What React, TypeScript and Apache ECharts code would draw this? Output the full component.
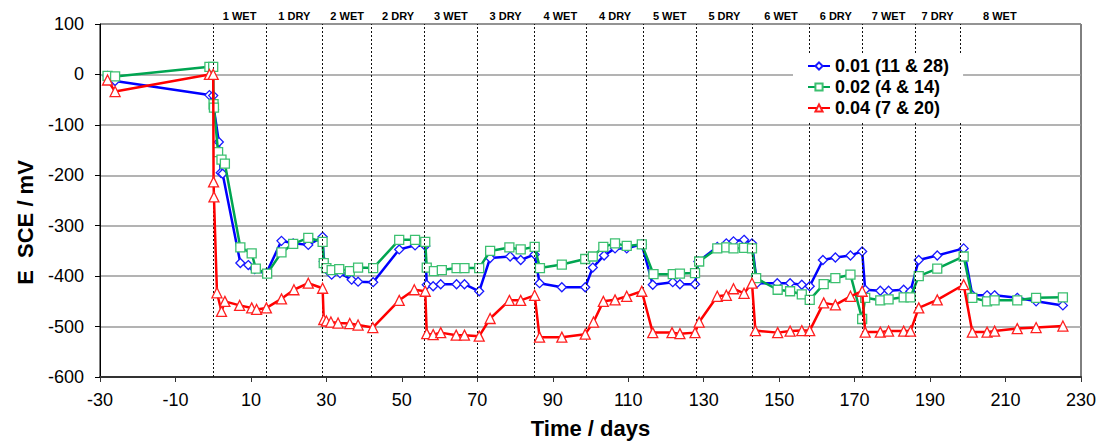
import React, { useEffect, useRef } from "react";
import * as echarts from "echarts";

// ---- Data ----
const seriesNames = ["0.01 (11 & 28)", "0.02 (4 & 14)", "0.04 (7 & 20)"];

const blueDays = [
  -28, -26, -1, 0, 0.2, 1.5, 2.0, 2.5, 7.2, 9.3, 11.0, 14.1, 18.1, 21.2, 25.2, 29.0, 29.3, 30.2, 31.4, 33.6, 36.7,
  38.4, 42.4, 49.3, 53.5, 56.2, 56.6, 58.3, 60.3, 64.5, 66.6, 70.5, 73.4, 78.7, 81.5, 85.2, 86.5, 92.4, 98.6,
  100.6, 103.6, 106.5, 109.6, 113.6, 116.5, 121.8, 123.7, 127.7, 128.6, 133.6, 136, 137.9, 140.7, 142.8, 144.1,
  149.5, 152.9, 156, 158.1, 161.6, 164.9, 168.9, 172, 172.8, 176.8, 179, 183, 184.8, 187, 191.9, 198.9, 201.2,
  205.1, 207.1, 213.1, 218.1, 225.2,
];
const blueValues = [
  -3, -13, -41, -42, -69, -134, -195, -197, -374, -378, -386, -394, -330, -335, -338, -322, -371, -388, -397, -394,
  -407, -411, -412, -347, -339, -340, -417, -420, -416, -416, -416, -430, -364, -361, -368, -357, -414, -422, -422,
  -383, -359, -345, -345, -337, -417, -412, -416, -416, -371, -342, -335, -331, -328, -335, -414, -414, -414, -417,
  -420, -368, -363, -359, -351, -427, -429, -429, -427, -430, -368, -359, -345, -438, -438, -438, -443, -450, -458,
];

const greenDays = [
  -28, -26, -1, 0, 0.1, 0.2, 1.3, 2.2, 3.1, 7.2, 10.2, 11.3, 14.3, 18.1, 21.2, 25.2, 29.0, 29.3, 30.0, 31.4, 33.4,
  36.2, 38.4, 42.4, 49.3, 53.5, 56.2, 56.6, 58.5, 60.6, 64.5, 66.6, 70.5, 73.4, 78.5, 81.5, 85.2, 86.6, 92.4,
  98.6, 100.6, 103.4, 106.5, 109.6, 113.6, 116.7, 121.8, 123.7, 127.7, 128.8, 133.6, 136, 137.9, 140.7, 142.8,
  143.9, 149.6, 152.9, 156, 158.1, 161.8, 164.9, 168.9, 172, 172.8, 176.8, 179, 183, 184.8, 187, 191.9, 198.9,
  201.2, 205.1, 207.1, 213.1, 218.1, 225.2,
];
const greenValues = [
  -3, -4, 15, 15, -59, -66, -154, -169, -177, -343, -355, -385, -395, -353, -336, -324, -332, -374, -384, -388, -386,
  -390, -383, -384, -328, -328, -332, -383, -390, -388, -384, -384, -384, -350, -343, -347, -342, -384, -377, -366,
  -361, -342, -335, -340, -337, -396, -396, -395, -394, -371, -345, -343, -345, -344, -345, -404, -427, -430, -436,
  -447, -416, -404, -397, -485, -443, -448, -446, -442, -442, -400, -385, -361, -443, -450, -448, -448, -443, -442,
];

const redDays = [
  -28, -26, -1, 0, 0.1, 0.2, 1.0, 2.2, 3.1, 7.0, 10.2, 11.5, 14.1, 18.1, 21.4, 25.2, 29.0, 29.3, 30.0, 31.2, 33.1,
  36.2, 38.4, 42.3, 49.3, 53.3, 56.2, 56.6, 58.3, 60.3, 64.4, 66.6, 70.5, 73.4, 78.5, 81.5, 85.2, 86.5, 92.4, 98.6,
  100.8, 103.4, 106.5, 109.6, 113.6, 116.5, 121.6, 123.7, 127.7, 128.8, 133.6, 136, 137.9, 140.7, 142.8, 143.7,
  149.6, 152.9, 156, 158.1, 161.8, 164.9, 168.9, 172, 172.8, 176.8, 179, 183, 184.8, 187, 191.9, 198.9, 201.2,
  205.1, 207.1, 213.1, 218.1, 225.2,
];
const redValues = [
  -11, -34, 0, 0, -213, -243, -433, -470, -450, -458, -463, -466, -463, -445, -427, -414, -424, -486, -489, -491,
  -493, -494, -497, -502, -448, -427, -430, -514, -516, -512, -517, -517, -519, -484, -448, -448, -438, -521, -521,
  -515, -491, -450, -447, -440, -430, -512, -512, -514, -512, -491, -440, -438, -425, -434, -414, -508, -512, -509,
  -508, -508, -453, -457, -440, -430, -511, -511, -509, -509, -509, -463, -447, -417, -511, -511, -509, -504, -502,
  -499,
];

const dividerDays = [0, 14, 29, 42, 56, 70, 85, 99, 114, 128, 143, 158, 172, 186, 198];
const phaseLabels = [
  "1 WET", "1 DRY", "2 WET", "2 DRY", "3 WET", "3 DRY", "4 WET", "4 DRY",
  "5 WET", "5 DRY", "6 WET", "6 DRY", "7 WET", "7 DRY", "8 WET",
];
const lastPhaseEnd = 219;

const xMin = -30;
const xMax = 230;
const xStep = 20;
const yMin = -600;
const yMax = 100;
const yStep = 100;

const FONT = "'Liberation Sans', Arial, Helvetica, sans-serif";

function pairs(days: number[], values: number[]) {
  return days.map((d, i) => [d, values[i]]);
}

export default function App() {
  const ref = useRef<HTMLDivElement>(null);

  useEffect(() => {
    if (!ref.current) return;
    const chart = echarts.init(ref.current, null, { renderer: "svg" });

    const phaseAreas = phaseLabels.map((label, i) => {
      const start = dividerDays[i];
      const end = i + 1 < dividerDays.length ? dividerDays[i + 1] : lastPhaseEnd;
      return [{ name: label, xAxis: start }, { xAxis: end }];
    });

    const cols = ["#0000FF", "#00A551", "#FF0000"];
    const markerBorder = ["#1a1aff", "#3cc070", "#ff2020"];
    const symbols = ["diamond", "rect", "triangle"];
    const sizes = [9, 9, 10];
    const datas = [pairs(blueDays, blueValues), pairs(greenDays, greenValues), pairs(redDays, redValues)];

    const series: any[] = datas.map((data, i) => ({
      type: "line",
      name: seriesNames[i],
      data,
      color: cols[i],
      symbol: symbols[i],
      symbolSize: sizes[i],
      showAllSymbol: true,
      lineStyle: { color: cols[i], width: 2.5 },
      itemStyle: { color: "#ffffff", borderColor: markerBorder[i], borderWidth: 1.3 },
      z: 3 + i,
      emphasis: { disabled: true },
    }));

    series.push({
      type: "line",
      name: "dividers",
      data: [],
      silent: true,
      z: 2,
      markLine: {
        silent: true,
        symbol: ["none", "none"],
        label: { show: false },
        lineStyle: { type: [2, 2], color: "#111", width: 1 },
        data: dividerDays.map((d) => ({ xAxis: d })),
      },
      markArea: {
        silent: true,
        itemStyle: { color: "rgba(0,0,0,0)" },
        label: {
          show: true,
          position: "top",
          distance: 3,
          color: "#000",
          fontWeight: "bold",
          fontSize: 11,
          fontFamily: FONT,
        },
        data: phaseAreas,
      },
    });

    chart.setOption({
      animation: false,
      backgroundColor: "#ffffff",
      textStyle: { fontFamily: FONT },
      grid: {
        left: 100,
        right: 26,
        top: 24,
        bottom: 65,
        show: true,
        borderColor: "#000",
        borderWidth: 1,
        backgroundColor: "transparent",
      },
      legend: {
        data: seriesNames,
        orient: "vertical",
        left: 793,
        top: 53,
        z: 10,
        backgroundColor: "#ffffff",
        padding: [4, 14, 6, 14],
        itemWidth: 22,
        itemHeight: 9,
        itemGap: 3,
        selectedMode: false,
        textStyle: { fontSize: 18, fontWeight: "bold", color: "#000", fontFamily: FONT, lineHeight: 18 },
      },
      xAxis: {
        type: "value",
        min: xMin,
        max: xMax,
        interval: xStep,
        name: "Time / days",
        nameLocation: "middle",
        nameGap: 40,
        nameTextStyle: { fontSize: 22, fontWeight: "bold", color: "#000", fontFamily: FONT },
        axisLine: { show: true, onZero: false, lineStyle: { color: "#333", width: 2 } },
        axisTick: { show: true, inside: false, length: 5, lineStyle: { color: "#333", width: 1 } },
        axisLabel: { fontSize: 18, color: "#000", margin: 14, fontFamily: FONT },
        splitLine: { show: false },
      },
      yAxis: {
        type: "value",
        min: yMin,
        max: yMax,
        interval: yStep,
        name: "E  SCE / mV",
        nameLocation: "middle",
        nameGap: 64,
        nameTextStyle: {
          fontSize: 22,
          fontWeight: "bold",
          color: "#000",
          fontFamily: FONT,
          padding: [0, 44, 0, 0],
        },
        axisLine: { show: true, onZero: false, lineStyle: { color: "#000", width: 1 } },
        axisTick: { show: true, inside: false, length: 5, lineStyle: { color: "#000", width: 1 } },
        axisLabel: { fontSize: 18, color: "#000", margin: 16, fontFamily: FONT },
        splitLine: { show: true, lineStyle: { color: "#9a9a9a", width: 1.5 } },
      },
      series,
    });

    return () => chart.dispose();
  }, []);

  return (
    <div
      ref={ref}
      style={{ position: "fixed", left: 0, top: 0, width: 1107, height: 444, background: "#fff" }}
    />
  );
}
